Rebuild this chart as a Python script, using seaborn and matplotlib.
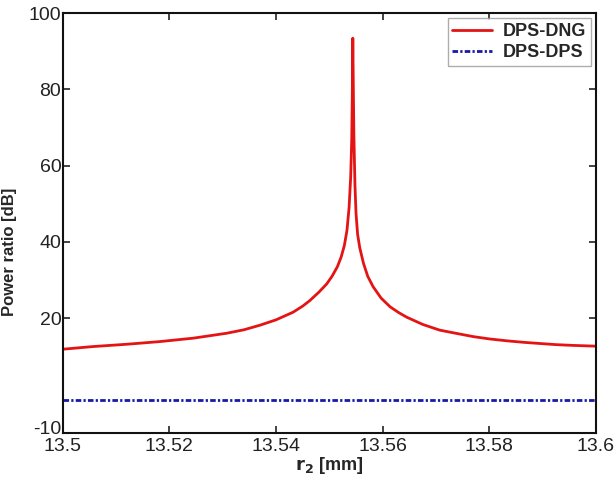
import matplotlib
matplotlib.use("Agg")
import matplotlib.pyplot as plt
import matplotlib.transforms as mtrans
import seaborn as sns
import pandas as pd

# DPS-DNG curve
r2_dng = [13.5000, 13.5057, 13.5120, 13.5182, 13.5245, 13.5308, 13.5340, 13.5370,
          13.5400, 13.5432, 13.5450, 13.5463, 13.5480, 13.5495, 13.5505, 13.5515,
          13.5522, 13.5528, 13.5533, 13.5537, 13.5540, 13.5542, 13.5543, 13.5544,
          13.5545, 13.5546, 13.5548, 13.5550, 13.5553, 13.5557, 13.5564, 13.5572,
          13.5582, 13.5597, 13.5614, 13.5630, 13.5645, 13.5675, 13.5707, 13.5740,
          13.5770, 13.5800, 13.5833, 13.5865, 13.5895, 13.5925, 13.5957, 13.6000]
pr_dng = [11.9, 12.6, 13.2, 13.9, 14.8, 16.1, 17.0, 18.2,
          19.6, 21.6, 23.2, 24.6, 26.8, 29.0, 31.0, 33.5,
          36.0, 39.0, 43.0, 49.0, 57.0, 67.0, 78.0, 93.4,
          80.0, 68.0, 55.0, 47.5, 42.0, 38.5, 34.4, 31.0,
          28.3, 25.3, 23.0, 21.5, 20.3, 18.4, 16.9, 16.0,
          15.2, 14.6, 14.1, 13.7, 13.4, 13.1, 12.9, 12.7]

# DPS-DPS curve
r2_dps = [13.5, 13.6]
pr_dps = [-1.5, -1.5]

xticks = [13.5, 13.52, 13.54, 13.56, 13.58, 13.6]
xticklabels = ["13.5", "13.52", "13.54", "13.56", "13.58", "13.6"]
yticks = [-10, 20, 40, 60, 80, 100]
yticklabels = ["-10", "20", "40", "60", "80", "100"]

sns.set_theme(style="white")
plt.rcParams["font.family"] = ["Liberation Sans", "DejaVu Sans"]
plt.rcParams["axes.unicode_minus"] = False

fig = plt.figure(figsize=(6.16, 4.87), dpi=100)
ax = fig.add_axes([62.7 / 616, 1 - 432.8 / 487, (596 - 62.7) / 616, (432.8 - 13) / 487])

df1 = pd.DataFrame({"r2": r2_dng, "pr": pr_dng})
df2 = pd.DataFrame({"r2": r2_dps, "pr": pr_dps})

sns.lineplot(data=df1, x="r2", y="pr", ax=ax, color="#e41414", lw=2,
             sort=False, label="DPS-DNG", estimator=None)
sns.lineplot(data=df2, x="r2", y="pr", ax=ax, color="#1a1aa8", lw=2,
             sort=False, label="DPS-DPS", estimator=None)
ax.lines[1].set_dashes([2, 0.8, 0.8, 0.8])

ax.set_xlim(13.5, 13.6)
ax.set_ylim(-10, 100)
ax.set_xticks(xticks)
ax.set_xticklabels(xticklabels)
ax.set_yticks(yticks)
ax.set_yticklabels(yticklabels)
ax.tick_params(axis="both", direction="in", length=5, width=1.2,
               labelsize=14, colors="#222222", pad=1,
               top=True, right=True, bottom=True, left=True)
ax.tick_params(axis="x", pad=4)
for s in ax.spines.values():
    s.set_color("#111111")
    s.set_linewidth(1.5)

# lift the "-10" label a little, as in the reference
lab = ax.get_yticklabels()[0]
lab.set_transform(lab.get_transform() + mtrans.ScaledTranslation(0, 5 / 100, fig.dpi_scale_trans))

ax.set_xlabel(r"$\mathbf{r_2}$ [mm]", fontsize=13, fontweight="bold", labelpad=0)
ax.set_ylabel("Power ratio [dB]", fontsize=12, fontweight="bold")
ax.yaxis.set_label_coords(-0.0857, 0.43)

leg = ax.legend(loc="upper right", fontsize=13, frameon=True, fancybox=False,
                borderaxespad=0.3, handlelength=2.2, borderpad=0.25,
                labelspacing=0.25, handletextpad=0.6)
leg.get_frame().set_edgecolor("#999999")
leg.get_frame().set_linewidth(1)
for t in leg.get_texts():
    t.set_fontweight("bold")

fig.savefig("out.png", dpi=100)
